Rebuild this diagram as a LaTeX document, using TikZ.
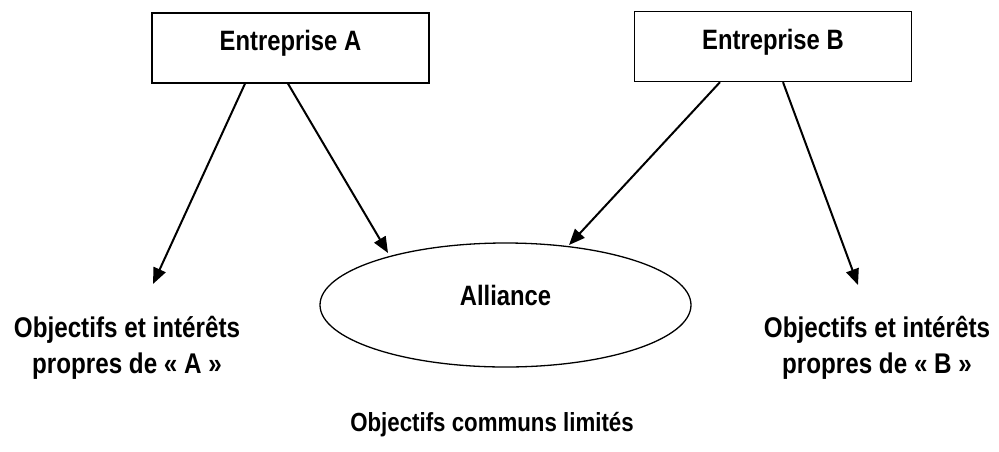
\documentclass[tikz,border=0pt]{standalone}
\usepackage{fontspec}
\newfontfamily\lab[FakeStretch=0.85]{Liberation Sans Bold}
\usetikzlibrary{shapes.geometric,arrows.meta}
\begin{document}
\begin{tikzpicture}[x=1pt,y=-1pt,
  firm/.style={draw, line width=1.3pt, minimum width=277pt, minimum height=70pt, inner sep=0pt,
    text height=11pt, text depth=6pt, font={\lab\fontsize{28}{34}\selectfont}},
  alli/.style={draw, ellipse, line width=1.3pt, minimum width=371pt, minimum height=124pt, inner sep=0pt,
    text height=10pt, text depth=10pt, font={\lab\fontsize{28}{34}\selectfont}},
  lbl/.style={align=center, anchor=base, font={\lab\fontsize{28.5}{36}\selectfont}},
  arr/.style={line width=2pt, -{Triangle[length=16pt,width=13pt]}}]
\useasboundingbox (0,0) rectangle (999,451);
\node[firm] (A) at (290.5,48) {Entreprise A};
\node[firm] (B) at (773,46.5) {Entreprise B};
\node[alli] (C) at (505.5,305) {Alliance};
\node[lbl] (LA) at (127,373) {Objectifs et intérêts\\propres de «~A~»};
\node[lbl] (LB) at (877,373) {Objectifs et intérêts\\propres de «~B~»};
\node[anchor=base, font={\lab\fontsize{26.2}{32}\selectfont}] (LC) at (492,431) {Objectifs communs limités};
\coordinate (tA) at (153,284);
\coordinate (tB) at (858,285);
\coordinate (cA) at (388,253);
\coordinate (cB) at (569,245);
\draw[arr] ([xshift=-45.5pt]A.south) -- (tA);
\draw[arr] ([xshift=-2.5pt]A.south) -- (cA);
\draw[arr] ([xshift=-53pt]B.south) -- (cB);
\draw[arr] ([xshift=10pt]B.south) -- (tB);
\end{tikzpicture}
\end{document}
